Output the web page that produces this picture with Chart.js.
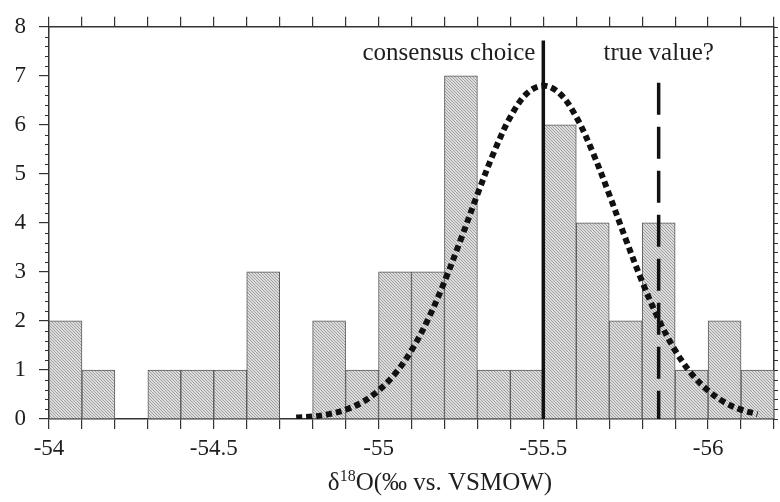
<!DOCTYPE html>
<html>
<head>
<meta charset="utf-8">
<script src="https://cdn.jsdelivr.net/npm/chart.js@4"></script>
<style>
  html, body { margin: 0; padding: 0; background: #fff; }
  #wrap { width: 780px; height: 502px; }
</style>
</head>
<body>
<div id="wrap"><canvas id="histChart" width="780" height="502"></canvas></div>
<script>
// bin centres (0.1 wide bins) and counts
const binCenters = [-54.05, -54.15, -54.25, -54.35, -54.45, -54.55, -54.65, -54.75, -54.85, -54.95, -55.05,
                    -55.15, -55.25, -55.35, -55.45, -55.55, -55.65, -55.75, -55.85, -55.95, -56.05, -56.15];
const counts = [2, 1, 0, 1, 1, 1, 3, 0, 2, 1, 3, 3, 7, 1, 1, 6, 4, 2, 4, 1, 2, 1];

// dotted fit curve
const curveX = [-54.75, -54.8, -54.85, -54.9, -54.95, -55.0, -55.05, -55.1, -55.15, -55.2, -55.25, -55.3, -55.35,
                -55.4, -55.45, -55.5, -55.55, -55.6, -55.65, -55.7, -55.75, -55.8, -55.85, -55.9, -55.95,
                -56.0, -56.05, -56.1, -56.15];
const curveY = [0.03, 0.05, 0.1, 0.19, 0.34, 0.58, 0.92, 1.4, 2.03, 2.8, 3.67, 4.58, 5.44, 6.16, 6.64, 6.8,
                6.64, 6.16, 5.44, 4.58, 3.67, 2.8, 2.03, 1.4, 0.92, 0.58, 0.34, 0.19, 0.1];

const consensusX = -55.5, consensusTop = 7.72;
const trueX = -55.85, trueTop = 6.86;

const xMin = -56.2, xMax = -54;
const yMin = 0, yMax = 8;

const serif = '"Liberation Serif", "Times New Roman", serif';
const ink = '#1e1e1e';

function hatchPattern() {
  const c = document.createElement('canvas');
  c.width = 3; c.height = 3;
  const g = c.getContext('2d');
  g.fillStyle = '#dcdcdc';
  g.fillRect(0, 0, 3, 3);
  g.strokeStyle = '#9a9a9a';
  g.lineWidth = 0.9;
  g.beginPath();
  g.moveTo(-1, -1); g.lineTo(4, 4);
  g.moveTo(-1, 2); g.lineTo(1, 4);
  g.moveTo(2, -1); g.lineTo(4, 1);
  g.stroke();
  return g.createPattern(c, 'repeat');
}

const fmtX = v => {
  const r = Math.round(v * 10);
  if (r % 5 !== 0) return '';
  return String(r / 10);
};

// minor ticks on y axes, text labels and axis title
const extras = {
  id: 'extras',
  afterDraw(chart) {
    const { ctx, chartArea: a, scales } = chart;
    const ys = scales.y;
    ctx.save();
    ctx.strokeStyle = '#333';
    ctx.lineWidth = 1;
    for (let i = 1; i < 40; i++) {
      if (i % 5 === 0) continue;
      const py = Math.round(ys.getPixelForValue(i * 0.2)) + 0.5;
      ctx.beginPath();
      ctx.moveTo(a.left - 4, py); ctx.lineTo(a.left, py);
      ctx.moveTo(a.right, py); ctx.lineTo(a.right + 4, py);
      ctx.stroke();
    }
    for (let i = 0; i <= 8; i++) {
      const py = Math.round(ys.getPixelForValue(i)) + 0.5;
      ctx.beginPath();
      ctx.moveTo(a.right, py); ctx.lineTo(a.right + 4, py);
      ctx.stroke();
    }

    const xs = scales.x;
    ctx.fillStyle = ink;
    ctx.font = '25px ' + serif;
    ctx.textBaseline = 'middle';
    ctx.textAlign = 'right';
    ctx.fillText('consensus choice', xs.getPixelForValue(consensusX) - 8, ys.getPixelForValue(7.46));
    ctx.textAlign = 'center';
    ctx.fillText('true value?', xs.getPixelForValue(trueX), ys.getPixelForValue(7.46));

    // axis title with superscript
    const base = 490;
    const parts = [['δ', 25, 0], ['18', 16, -9], ['O(‰ vs. VSMOW)', 25, 0]];
    let total = 0;
    parts.forEach(p => { ctx.font = p[1] + 'px ' + serif; total += ctx.measureText(p[0]).width; });
    let x = 440 - total / 2;
    ctx.textAlign = 'left';
    ctx.textBaseline = 'alphabetic';
    parts.forEach(p => {
      ctx.font = p[1] + 'px ' + serif;
      ctx.fillText(p[0], x, base + p[2]);
      x += ctx.measureText(p[0]).width;
    });
    ctx.restore();
  }
};

const axisLine = { display: true, color: '#333', width: 1.5 };
const tickGrid = { drawOnChartArea: false, drawTicks: true, tickLength: 10, color: '#333', lineWidth: 1.2, offset: false };

new Chart(document.getElementById('histChart'), {
  type: 'bar',
  data: {
    datasets: [
      {
        type: 'line',
        data: curveX.map((x, i) => ({ x, y: curveY[i] })),
        borderColor: '#111',
        borderWidth: 6,
        borderDash: [6, 4],
        tension: 0.35,
        pointRadius: 0,
        order: 1
      },
      {
        type: 'line',
        data: [{ x: consensusX, y: 0 }, { x: consensusX, y: consensusTop }],
        borderColor: '#111',
        borderWidth: 3.5,
        pointRadius: 0,
        order: 2
      },
      {
        type: 'line',
        data: [{ x: trueX, y: trueTop }, { x: trueX, y: 0 }],
        borderColor: '#111',
        borderWidth: 3.5,
        borderDash: [32, 12],
        pointRadius: 0,
        order: 2
      },
      {
        type: 'bar',
        data: binCenters.map((x, i) => ({ x, y: counts[i] })),
        backgroundColor: hatchPattern(),
        borderColor: '#5a5a5a',
        borderWidth: 1,
        borderSkipped: 'bottom',
        barPercentage: 1,
        categoryPercentage: 1,
        order: 3
      }
    ]
  },
  options: {
    responsive: false,
    animation: false,
    layout: { padding: 0 },
    plugins: { legend: { display: false }, tooltip: { enabled: false } },
    scales: {
      x: {
        type: 'linear', position: 'bottom', min: xMin, max: xMax, reverse: true, offset: false,
        border: axisLine, grid: tickGrid,
        ticks: { stepSize: 0.1, autoSkip: false, maxRotation: 0, padding: 6, color: ink,
                 font: { family: serif, size: 23 }, callback: fmtX },
        afterFit: s => { s.height = 83; }
      },
      x2: {
        type: 'linear', position: 'top', min: xMin, max: xMax, reverse: true, offset: false,
        border: axisLine, grid: tickGrid,
        ticks: { stepSize: 0.1, autoSkip: false, maxRotation: 0, callback: () => '' },
        afterFit: s => { s.height = 18; }
      },
      y: {
        min: yMin, max: yMax, position: 'left',
        border: axisLine, grid: tickGrid,
        ticks: { stepSize: 1, padding: 13, color: ink, font: { family: serif, size: 23 } },
        afterFit: s => { s.width = 49; }
      },
      y2: {
        min: yMin, max: yMax, position: 'right',
        border: axisLine,
        grid: { drawOnChartArea: false, drawTicks: false },
        ticks: { display: false },
        afterFit: s => { s.width = 4; }
      }
    }
  },
  plugins: [extras]
});
</script>
</body>
</html>
